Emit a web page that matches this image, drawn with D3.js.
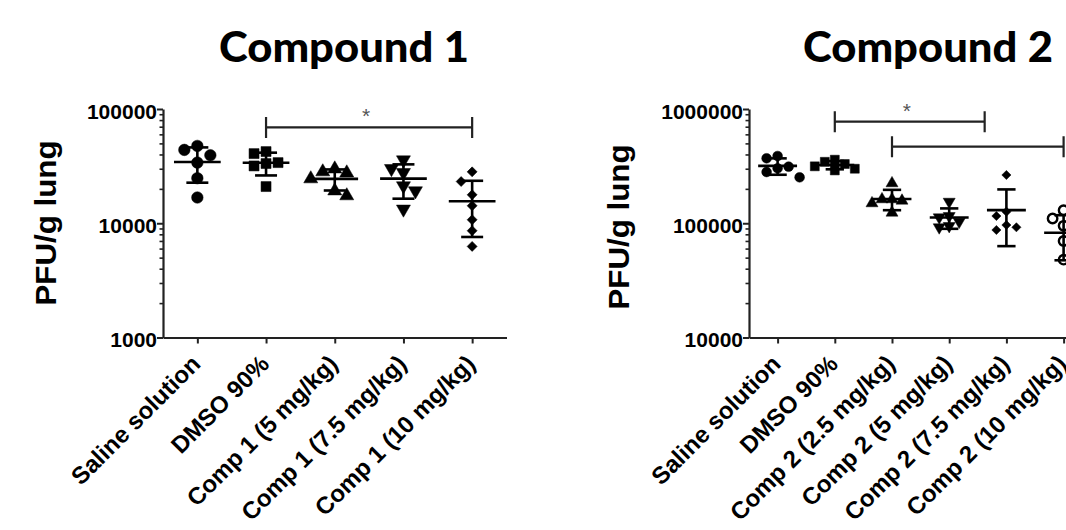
<!DOCTYPE html>
<html>
<head>
<meta charset="utf-8">
<script src="https://cdn.jsdelivr.net/npm/d3@7"></script>
<style>
  html, body { margin: 0; padding: 0; background: #fff; }
  svg { display: block; }
</style>
</head>
<body>
<script>
// ---------- DATA ----------
const categories1 = ["Saline solution", "DMSO 90%", "Comp 1 (5 mg/kg)", "Comp 1 (7.5 mg/kg)", "Comp 1 (10 mg/kg)"];
const categories2 = ["Saline solution", "DMSO 90%", "Comp 2 (2.5 mg/kg)", "Comp 2 (5 mg/kg)", "Comp 2 (7.5 mg/kg)", "Comp 2 (10 mg/kg)"];

// Compound 1 (PFU/g lung)
const c1Saline = [47500, 43850, 39400, 33950, 24800, 16800];
const c1DMSO   = [42400, 40700, 33950, 33300, 31750, 20950];
const c1Comp5  = [29900, 28200, 27600, 24500, 19200, 17400];
const c1Comp75 = [35850, 30100, 27780, 21260, 19220, 13300];
const c1Comp10 = [28170, 23180, 17740, 14220, 10730, 8600, 6270];

// Compound 2 (PFU/g lung)
const c2Saline = [387700, 370300, 312600, 302700, 280900, 252400];
const c2DMSO   = [360000, 345000, 330000, 315000, 300000, 290000];
const c2Comp25 = [223700, 162000, 162000, 157600, 149500, 123700];
const c2Comp5  = [154400, 115700, 112700, 103200, 94600, 92200];
const c2Comp75 = [264500, 126200, 115700, 96500, 92200, 87300];
const c2Comp10 = [130000, 110000, 95000, 70000, 48000, 42000];

const yTicks1 = [1000, 10000, 100000];
const yTicks2 = [10000, 100000, 1000000];

const titles = ["Compound 1", "Compound 2"];
const yTitle = "PFU/g lung";

// significance brackets: category index (from/to), bracket height (data value), label
const brackets1 = [{ from: 1, to: 4, value: 69000, label: "*" }];
const brackets2 = [{ from: 1, to: 3.62, value: 774000, label: "*" },
                   { from: 2, to: 5, value: 468000, label: "" }];

// ---------- DRAW ----------
const W = 1066, H = 530;
const svg = d3.select("body").append("svg").attr("width", W).attr("height", H)
  .style("background", "#fff");

const AX = "'Liberation Sans', Arial, sans-serif";
const TOP = 109, BOTTOM = 337.5;

const shapes = {
  circle:   { type: d3.symbolCircle, rot: 0 },
  square:   { type: d3.symbolSquare, rot: 0 },
  triUp:    { type: d3.symbolTriangle, rot: 0 },
  triDown:  { type: d3.symbolTriangle, rot: 180 },
  diamond:  { type: d3.symbolSquare, rot: 45 }
};

function drawPanel(cfg) {
  const g = svg.append("g");
  const x = d3.scalePoint().domain(cfg.categories).range([cfg.x0, cfg.x1]).padding(0.5);
  const y = d3.scaleLog().domain(cfg.domain).range([BOTTOM, TOP]);
  const step = x.step();

  // title
  g.append("text")
    .attr("x", cfg.titleX).attr("y", 62)
    .attr("text-anchor", "middle")
    .attr("font-family", "Lato, 'Open Sans', sans-serif")
    .attr("font-weight", 900)
    .attr("font-size", 42)
    .attr("textLength", 250).attr("lengthAdjust", "spacingAndGlyphs")
    .text(cfg.title);

  // y title
  g.append("text")
    .attr("transform", `translate(${cfg.yTitleX},${cfg.yTitleY}) rotate(-90)`)
    .attr("text-anchor", "middle")
    .attr("font-family", AX).attr("font-weight", 700).attr("font-size", 30)
    .attr("textLength", 165).attr("lengthAdjust", "spacingAndGlyphs")
    .text(yTitle);

  // minor y ticks
  const minor = y.ticks().filter(t => !cfg.yTicks.includes(t));
  const minorAxis = g.append("g").attr("transform", `translate(${cfg.x0},0)`)
    .call(d3.axisLeft(y).tickValues(minor).tickSize(3.5).tickSizeOuter(0).tickFormat(""));
  minorAxis.select(".domain").remove();
  minorAxis.selectAll("line").attr("stroke", "#222").attr("stroke-width", 1.6);

  // major y axis
  const yAxis = g.append("g").attr("transform", `translate(${cfg.x0},0)`)
    .call(d3.axisLeft(y).tickValues(cfg.yTicks).tickSize(6).tickSizeOuter(0)
      .tickFormat(d3.format("d")));
  yAxis.select(".domain").attr("stroke", "#222").attr("stroke-width", 2.2);
  yAxis.selectAll(".tick line").attr("stroke", "#222").attr("stroke-width", 2);
  yAxis.selectAll(".tick text")
    .attr("font-family", AX).attr("font-weight", 700).attr("font-size", 21)
    .attr("fill", "#000").attr("x", -6).attr("dy", "0.45em");

  // x axis
  const xAxis = g.append("g").attr("transform", `translate(0,${BOTTOM})`)
    .call(d3.axisBottom(x).tickSize(6).tickSizeOuter(0));
  xAxis.select(".domain").attr("stroke", "#222").attr("stroke-width", 2.2);
  xAxis.selectAll(".tick line").attr("stroke", "#222").attr("stroke-width", 2);
  xAxis.selectAll(".tick text")
    .attr("font-family", AX).attr("font-weight", 700).attr("font-size", 24)
    .attr("fill", "#000")
    .attr("text-anchor", "end")
    .attr("x", null).attr("y", null).attr("dy", "0.35em")
    .attr("transform", "translate(-2,22) rotate(-45)");

  // groups
  cfg.groups.forEach((grp, i) => {
    const cx = x(cfg.categories[i]);
    const sh = shapes[grp.shape];
    const sym = d3.symbol().type(sh.type).size(grp.size);
    const diam = grp.dodge;
    // simple dodge: first free slot, balancing sides
    const placed = [];
    const sorted = grp.values.slice().sort((a, b) => b - a);
    const free = (px, py) => placed.every(p => Math.hypot(p.x - px, p.y - py) >= diam * 0.98);
    sorted.forEach(v => {
      const py = y(v);
      if (free(cx, py)) { placed.push({ x: cx, y: py }); return; }
      for (let k = 1; k < 5; k++) {
        const nl = placed.filter(p => p.x < cx).length;
        const nr = placed.filter(p => p.x > cx).length;
        const order = nr < nl ? [1, -1] : [-1, 1];
        let done = false;
        for (const s of order) {
          const px = cx + s * k * diam;
          if (free(px, py)) { placed.push({ x: px, y: py }); done = true; break; }
        }
        if (done) break;
      }
    });
    g.append("g").selectAll("path").data(placed).join("path")
      .attr("d", sym)
      .attr("transform", d => `translate(${d.x},${d.y}) rotate(${sh.rot})`)
      .attr("fill", grp.open ? "#fff" : "#000")
      .attr("stroke", "#000")
      .attr("stroke-width", grp.open ? 2.4 : 0.5);

    // mean and SD
    const m = d3.mean(grp.values), sd = d3.deviation(grp.values);
    const hiY = y(m + sd), loY = y(m - sd), mY = y(m);
    const capW = step * 0.16, meanW = step * 0.34;
    const eb = g.append("g").attr("stroke", "#000").attr("stroke-width", 2.6).attr("fill", "none");
    eb.append("line").attr("x1", cx).attr("x2", cx).attr("y1", hiY).attr("y2", loY);
    eb.append("line").attr("x1", cx - capW).attr("x2", cx + capW).attr("y1", hiY).attr("y2", hiY);
    eb.append("line").attr("x1", cx - capW).attr("x2", cx + capW).attr("y1", loY).attr("y2", loY);
    eb.append("line").attr("x1", cx - meanW).attr("x2", cx + meanW).attr("y1", mY).attr("y2", mY);
  });

  // brackets
  const idxX = t => x(cfg.categories[0]) + t * step;
  cfg.brackets.forEach(b => {
    const by = y(b.value);
    const xa = idxX(b.from), xb = idxX(b.to);
    g.append("path")
      .attr("d", `M${xa},${by - 10.5}V${by + 10.5}M${xa},${by}H${xb}M${xb},${by - 10.5}V${by + 10.5}`)
      .attr("stroke", "#222").attr("stroke-width", 2.2).attr("fill", "none");
    if (b.label) {
      g.append("text")
        .attr("x", (xa + xb) / 2 - 3).attr("y", by - 4)
        .attr("text-anchor", "middle")
        .attr("font-family", AX).attr("font-size", 21).attr("fill", "#555")
        .text(b.label);
    }
  });
}

drawPanel({
  title: titles[0], titleX: 344,
  yTitleX: 56, yTitleY: 223,
  categories: categories1, x0: 163, x1: 506.5,
  domain: [1000, 100000], yTicks: yTicks1,
  groups: [
    { values: c1Saline, shape: "circle",  size: 105, dodge: 13 },
    { values: c1DMSO,   shape: "square",  size: 100, dodge: 12 },
    { values: c1Comp5,  shape: "triUp",   size: 85,  dodge: 12 },
    { values: c1Comp75, shape: "triDown", size: 85,  dodge: 12 },
    { values: c1Comp10, shape: "diamond", size: 50,  dodge: 11 }
  ],
  brackets: brackets1
});

drawPanel({
  title: titles[1], titleX: 928,
  yTitleX: 629, yTitleY: 227,
  categories: categories2, x0: 749, x1: 1092.2,
  domain: [10000, 1000000], yTicks: yTicks2,
  groups: [
    { values: c2Saline, shape: "circle",  size: 75, dodge: 11 },
    { values: c2DMSO,   shape: "square",  size: 80, dodge: 10 },
    { values: c2Comp25, shape: "triUp",   size: 62, dodge: 10 },
    { values: c2Comp5,  shape: "triDown", size: 62, dodge: 10 },
    { values: c2Comp75, shape: "diamond", size: 42, dodge: 10 },
    { values: c2Comp10, shape: "circle",  size: 70, dodge: 11, open: true }
  ],
  brackets: brackets2
});
</script>
</body>
</html>
